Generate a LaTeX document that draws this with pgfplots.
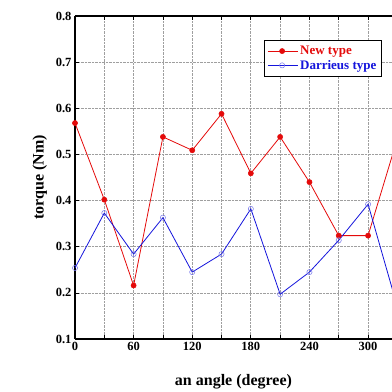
\documentclass[border=0pt]{standalone}
\usepackage{pgfplots}
\pgfplotsset{compat=1.18}
\usepackage{fontspec}
\setmainfont{Liberation Serif}
\definecolor{myred}{RGB}{228,10,10}
\definecolor{myblue}{RGB}{20,20,220}
\begin{document}
\begin{tikzpicture}[x=1pt,y=1pt]
\useasboundingbox (-75pt,-53pt) rectangle (317pt,339pt);
\begin{axis}[
  at={(0pt,0pt)}, anchor=south west,
  scale only axis, width=317pt, height=323pt,
  xmin=0, xmax=324.5, ymin=0.1, ymax=0.8,
  axis y line*=left, axis x line*=box,
  xtick={0,30,...,300}, xticklabels={0,,60,,120,,180,,240,,300},
  ytick={0.1,0.2,...,0.8},
  yticklabel style={/pgf/number format/.cd,fixed,fixed zerofill,precision=1},
  /pgf/number format/assume math mode=true,
  tick label style={font=\bfseries\fontsize{12.5}{14}\selectfont},
  tick style={black, line width=0.7pt},
  tick align=inside, major tick length=4pt,
  grid=major,
  major grid style={gray!75, densely dotted, line width=0.7pt},
  axis line style={black, line width=1.1pt},
  xlabel={an angle (degree)}, ylabel={torque (Nm)},
  label style={font=\bfseries\fontsize{16}{18}\selectfont},
  xlabel style={yshift=-17pt},
  ylabel style={yshift=2pt},
  legend style={at={(0.968,0.927)}, anchor=north east, draw=black, line width=1pt,
    font=\bfseries\fontsize{13}{15}\selectfont, inner xsep=3pt, inner ysep=4pt,
    /tikz/every even column/.append style={column sep=0pt},
    legend cell align=left},
  legend image code/.code={\draw[mark repeat=2,mark phase=2,#1] plot coordinates {(0cm,0cm) (0.5cm,0cm) (1.05cm,0cm)};},
]
\addplot[myred, line width=0.8pt, mark=*, mark size=2.6pt, mark options={fill=myred, line width=0.5pt}]
coordinates {(0,0.568) (30,0.402) (60,0.216) (90,0.538) (120,0.509) (150,0.588) (180,0.459) (210,0.538) (240,0.440) (270,0.324) (300,0.324) (330,0.534)};
\addlegendentry{\textcolor{myred}{New type}}
\addplot[myblue, line width=0.8pt, mark=o, mark size=2.6pt, mark options={line width=0.5pt, draw=myblue!60!white}]
coordinates {(0,0.254) (30,0.373) (60,0.284) (90,0.363) (120,0.245) (150,0.284) (180,0.382) (210,0.197) (240,0.245) (270,0.314) (300,0.392) (330,0.170)};
\addlegendentry{\textcolor{myblue}{Darrieus type}}
\end{axis}
\end{tikzpicture}
\end{document}
